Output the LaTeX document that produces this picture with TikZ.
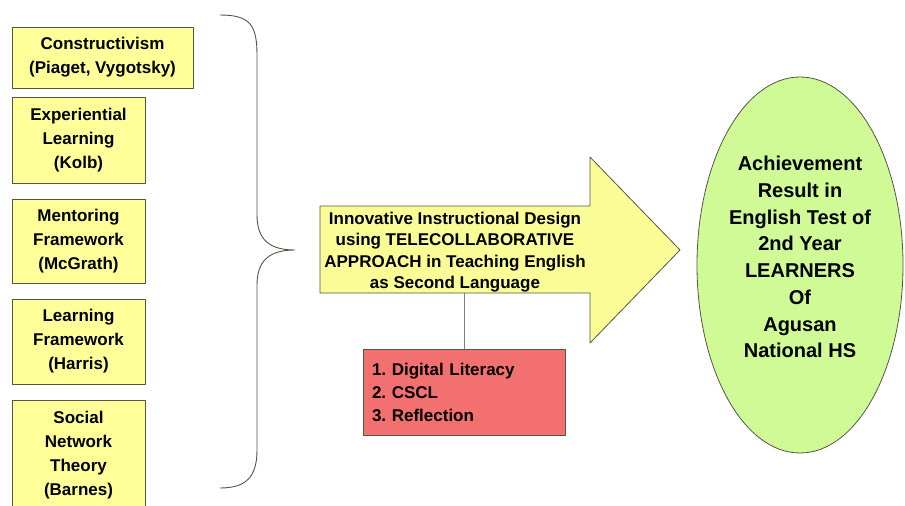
\documentclass[tikz,border=0pt]{standalone}
\usepackage{fontspec}
\setmainfont{Liberation Sans}
\usetikzlibrary{shapes.geometric,positioning}
\definecolor{boxyellow}{RGB}{255,255,153}
\definecolor{arrowyellow}{RGB}{250,252,150}
\definecolor{boxred}{RGB}{242,112,112}
\definecolor{ovalgreen}{RGB}{208,250,150}
\definecolor{edgegray}{RGB}{85,85,70}
\frenchspacing

\begin{document}
\begin{tikzpicture}[x=1pt,y=-1pt,line cap=round,line join=round,
  theory/.style={draw=edgegray,line width=0.8pt,fill=boxyellow,inner sep=0pt,
    align=center,font=\bfseries\fontsize{17}{24}\selectfont},
  design/.style={align=center,font=\bfseries\fontsize{17}{21.5}\selectfont},
  media/.style={draw=edgegray,line width=0.8pt,fill=boxred,inner sep=0pt,
    text width=184pt,align=left,font=\bfseries\fontsize{17}{23}\selectfont},
  result/.style={ellipse,draw=edgegray,line width=0.8pt,fill=ovalgreen,inner sep=0pt,
    align=center,text depth=16pt,font=\bfseries\fontsize{20}{26.7}\selectfont}]
  \clip (0,0) rectangle (905,506);
  % theory boxes
  \node[theory,minimum width=181pt,minimum height=61pt] (cons) at (102.5,57.5)
    {Constructivism\\(Piaget, Vygotsky)};
  \node[theory,minimum width=133pt,minimum height=86pt] (expl) at (78.5,140)
    {Experiential\\Learning\\(Kolb)};
  \node[theory,minimum width=133pt,minimum height=84pt] (ment) at (78.5,241)
    {Mentoring\\Framework\\(McGrath)};
  \node[theory,minimum width=133pt,minimum height=85pt] (lear) at (78.5,341.5)
    {Learning\\Framework\\(Harris)};
  \node[theory,minimum width=133pt,minimum height=110pt] (soci) at (78.5,455)
    {Social\\Network\\Theory\\(Barnes)};
  % brace
  \coordinate (bt) at (220,15);
  \coordinate (bm) at (295,250);
  \coordinate (bb) at (220,488);
  \draw[line width=0.9pt,edgegray] (bt) .. controls (250,15) and (257,25) .. (257,55)
    -- (257,215) .. controls (257,240) and (270,250) .. (bm)
    .. controls (270,250) and (257,260) .. (257,285)
    -- (257,450) .. controls (257,478) and (245,488) .. (bb);
  % arrow
  \draw[draw=edgegray,line width=0.8pt,fill=arrowyellow] (320,206) -- (590,206)
    -- (590,157) -- (680,250) -- (590,343) -- (590,293) -- (320,293) -- cycle;
  \node[design] (idea) at (455,252)
    {Innovative Instructional Design\\using TELECOLLABORATIVE\\APPROACH in Teaching English\\as Second Language};
  \coordinate (shaft) at (464,293);
  \node[media,minimum width=202pt,minimum height=86pt] (tools) at (464,392)
    {1. Digital Literacy\\2. CSCL\\3. Reflection};
  \draw[gray,line width=0.8pt] (shaft) -- (tools.north);
  % result
  \node[result,minimum width=206pt,minimum height=376pt] (ach) at (800,265)
    {Achievement\\Result in\\English Test of\\2nd Year\\LEARNERS\\Of\\Agusan\\National HS};
\end{tikzpicture}
\end{document}
